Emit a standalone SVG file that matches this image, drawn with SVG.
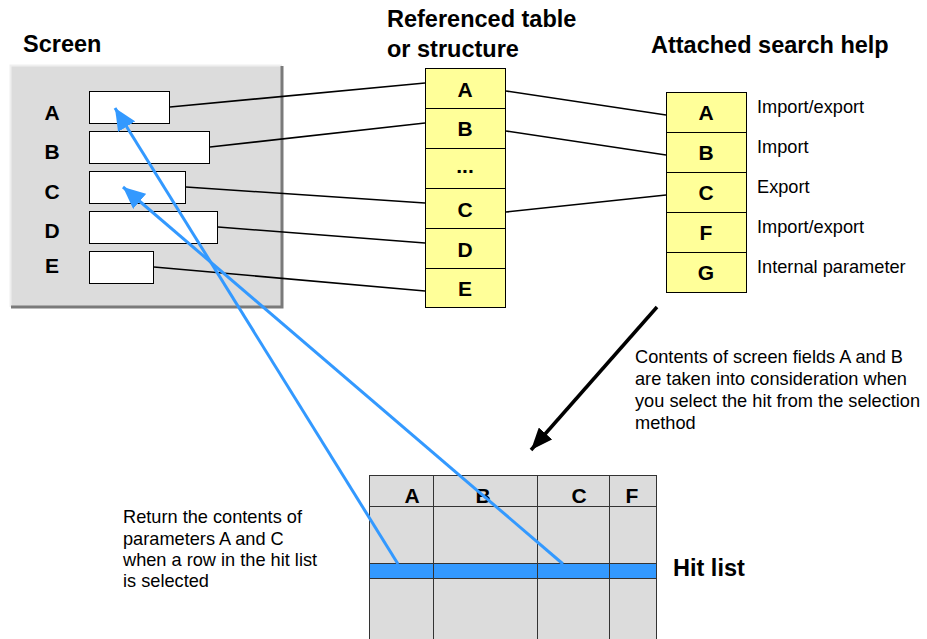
<svg xmlns="http://www.w3.org/2000/svg" width="927" height="639" viewBox="0 0 927 639">
<defs>
<style>
.title{font-family:"Liberation Sans",Arial,sans-serif;font-weight:bold;font-size:23.5px;fill:#000}
.cell{font-family:"Liberation Sans",Arial,sans-serif;font-weight:bold;font-size:21px;fill:#000;text-anchor:middle}
.txt{font-family:"Liberation Sans",Arial,sans-serif;font-size:18.2px;fill:#000}
.yel{fill:#ffff99;stroke:#000;stroke-width:1}
.fld{fill:#fff;stroke:#000;stroke-width:1}
.con{stroke:#000;stroke-width:1.6;fill:none}
.blue{stroke:#3399ff;stroke-width:3;fill:none}
.grid{stroke:#333;stroke-width:1;fill:none}
</style>
<marker id="bh" markerUnits="userSpaceOnUse" markerWidth="24" markerHeight="20" refX="22" refY="10" orient="auto">
<path d="M0,0 L22,10 L0,20 Z" fill="#3399ff"/>
</marker>
<marker id="kh" markerUnits="userSpaceOnUse" markerWidth="24" markerHeight="18" refX="22" refY="9" orient="auto">
<path d="M0,0 L22,9 L0,18 Z" fill="#000"/>
</marker>
</defs>
<rect width="927" height="639" fill="#fff"/>

<g id="titles">
<text class="title" x="23" y="52">Screen</text>
<text class="title" x="387" y="27">Referenced table</text>
<text class="title" x="387" y="57">or structure</text>
<text class="title" x="651" y="53">Attached search help</text>
</g>

<g id="screen">
<rect x="10" y="65" width="272" height="242" fill="#dcdcdc"/>
<path d="M10.5,307 L10.5,65.5 L282,65.5" stroke="#efefef" stroke-width="2" fill="none"/>
<path d="M11,307 L282,307 L282,66" stroke="#7a7a7a" stroke-width="3" fill="none"/>
<text class="cell" x="52" y="120">A</text>
<text class="cell" x="52" y="159">B</text>
<text class="cell" x="52" y="199">C</text>
<text class="cell" x="52" y="238">D</text>
<text class="cell" x="52" y="273">E</text>
<rect class="fld" x="89.5" y="91.5" width="80" height="32"/>
<rect class="fld" x="89.5" y="131.5" width="120" height="32"/>
<rect class="fld" x="89.5" y="171.5" width="96" height="32"/>
<rect class="fld" x="89.5" y="211.5" width="128" height="32"/>
<rect class="fld" x="89.5" y="251.5" width="64" height="32"/>
</g>

<g id="reftable">
<rect class="yel" x="425.5" y="68.5" width="80" height="40"/>
<rect class="yel" x="425.5" y="108.5" width="80" height="40"/>
<rect class="yel" x="425.5" y="148.5" width="80" height="40"/>
<rect class="yel" x="425.5" y="188.5" width="80" height="40"/>
<rect class="yel" x="425.5" y="228.5" width="80" height="40"/>
<rect class="yel" x="425.5" y="268.5" width="80" height="39"/>
<text class="cell" x="465" y="97">A</text>
<text class="cell" x="465" y="136">B</text>
<text class="cell" x="465" y="173">...</text>
<text class="cell" x="465" y="217">C</text>
<text class="cell" x="465" y="257">D</text>
<text class="cell" x="465" y="296">E</text>
</g>

<g id="searchhelp">
<rect class="yel" x="666.5" y="92.5" width="80" height="40"/>
<rect class="yel" x="666.5" y="132.5" width="80" height="40"/>
<rect class="yel" x="666.5" y="172.5" width="80" height="40"/>
<rect class="yel" x="666.5" y="212.5" width="80" height="40"/>
<rect class="yel" x="666.5" y="252.5" width="80" height="40"/>
<text class="cell" x="706" y="120">A</text>
<text class="cell" x="706" y="160">B</text>
<text class="cell" x="706" y="200">C</text>
<text class="cell" x="706" y="240">F</text>
<text class="cell" x="706" y="280">G</text>
<text class="txt" x="757" y="113">Import/export</text>
<text class="txt" x="757" y="153">Import</text>
<text class="txt" x="757" y="193">Export</text>
<text class="txt" x="757" y="233">Import/export</text>
<text class="txt" x="757" y="273">Internal parameter</text>
</g>

<g id="hitlist">
<rect x="369.5" y="475.5" width="287" height="170" fill="#dcdcdc"/>
<rect x="369.5" y="563.5" width="287" height="15" fill="#3399ff"/>
<path class="grid" d="M369.5,475.5 L656.5,475.5 M369.5,506.5 L656.5,506.5 M369.5,563.5 L656.5,563.5 M369.5,578.5 L656.5,578.5 M369.5,475 L369.5,639 M433.5,475 L433.5,639 M537.5,475 L537.5,639 M609.5,475 L609.5,639 M656.5,475 L656.5,639"/>
<text class="cell" x="412" y="503">A</text>
<text class="cell" x="483" y="503">B</text>
<text class="cell" x="579" y="503">C</text>
<text class="cell" x="632" y="503">F</text>
<text class="title" x="673" y="576">Hit list</text>
</g>

<g id="notes">
<text class="txt" x="635"><tspan x="635" y="363">Contents of screen fields A and B</tspan><tspan x="635" y="385">are taken into consideration when</tspan><tspan x="635" y="407">you select the hit from the selection</tspan><tspan x="635" y="429">method</tspan></text>
<text class="txt" x="123"><tspan x="123" y="523">Return the contents of</tspan><tspan x="123" y="545">parameters A and C</tspan><tspan x="123" y="566">when a row in the hit list</tspan><tspan x="123" y="587">is selected</tspan></text>
</g>

<g id="connectors">
<line class="con" x1="170" y1="107" x2="425" y2="83"/>
<line class="con" x1="210" y1="147" x2="425" y2="123"/>
<line class="con" x1="186" y1="187" x2="425" y2="203"/>
<line class="con" x1="218" y1="227" x2="425" y2="243"/>
<line class="con" x1="154" y1="267" x2="425" y2="291"/>
<line class="con" x1="506" y1="91" x2="666" y2="115"/>
<line class="con" x1="506" y1="131" x2="666" y2="155"/>
<line class="con" x1="506" y1="212" x2="666" y2="195"/>
<line stroke="#000" stroke-width="3.5" x1="657" y1="307" x2="531" y2="450" marker-end="url(#kh)"/>
<line class="blue" x1="398" y1="564" x2="115" y2="108" marker-end="url(#bh)"/>
<line class="blue" x1="563" y1="564" x2="123" y2="187" marker-end="url(#bh)"/>
</g>
</svg>
